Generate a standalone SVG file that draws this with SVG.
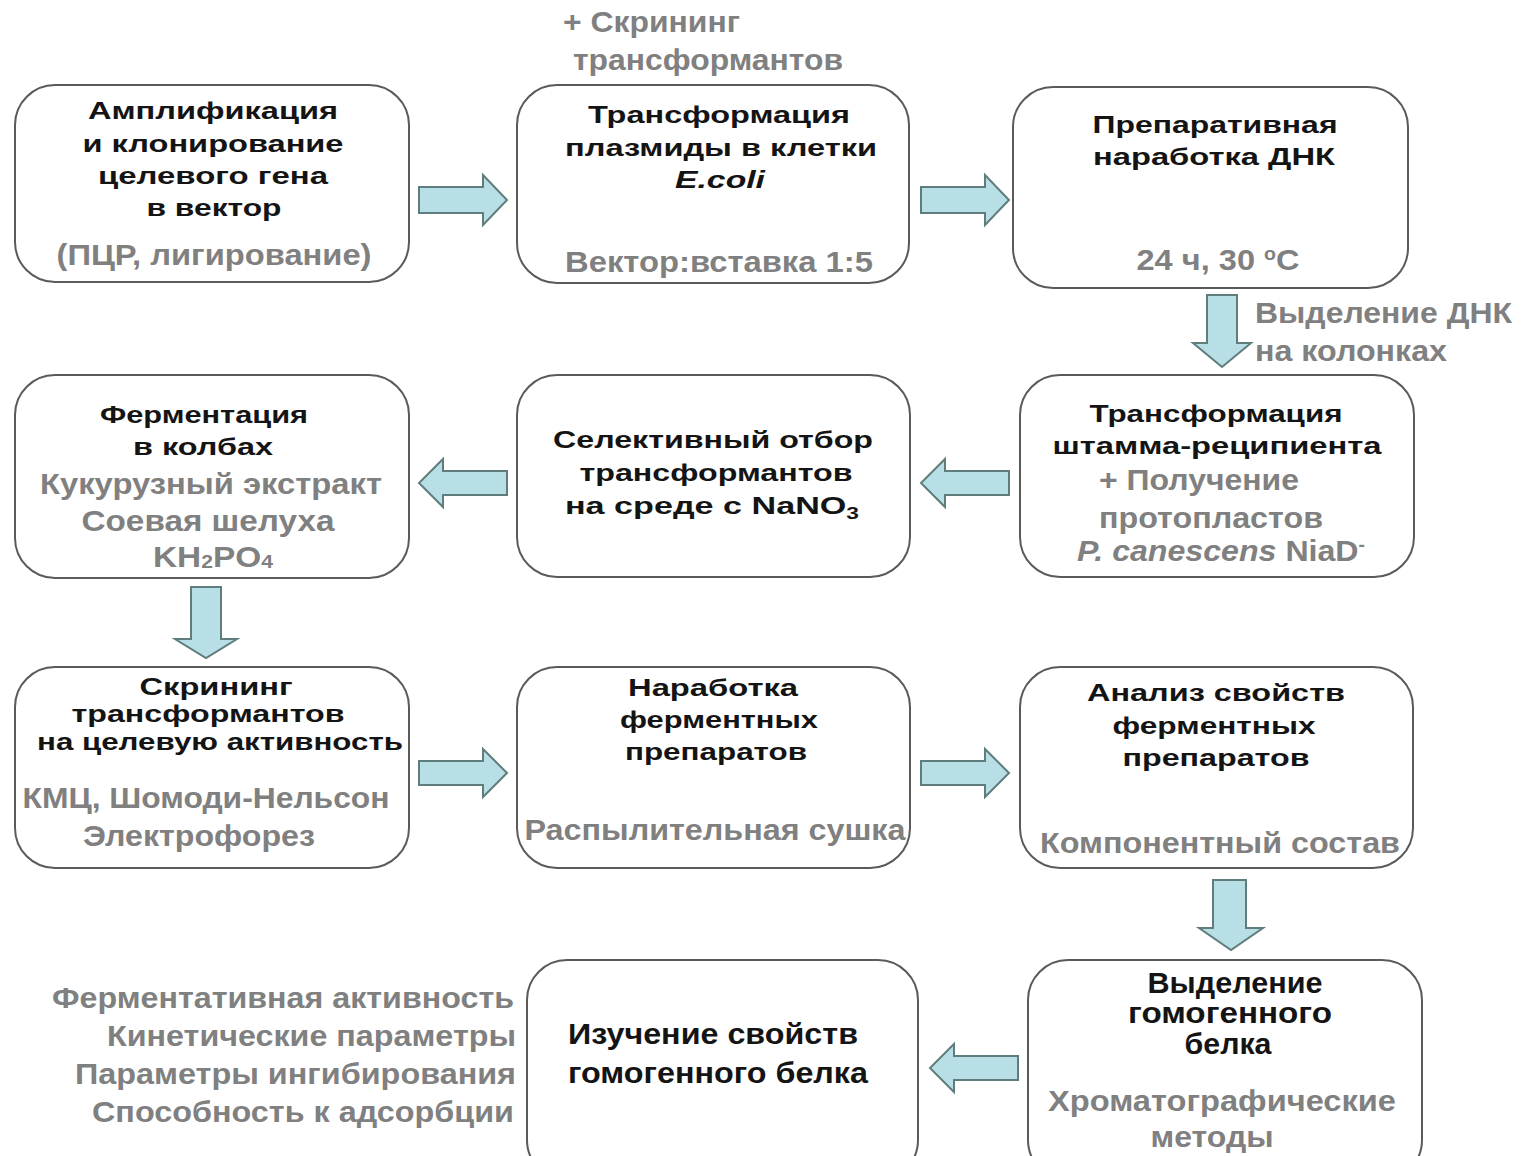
<svg xmlns="http://www.w3.org/2000/svg" width="1526" height="1156" viewBox="0 0 1526 1156">
<style>
.box{fill:#fff;stroke:#5a5a5a;stroke-width:2}
.arr{fill:#b8dfe5;stroke:#5f7d7d;stroke-width:2;stroke-linejoin:miter}
.h{font-family:"Liberation Sans",Arial,sans-serif;font-weight:bold;font-size:24px;fill:#141414;text-anchor:middle}
.b{font-family:"Liberation Sans",Arial,sans-serif;font-weight:bold;font-size:30px;fill:#141414}
.g{font-family:"Liberation Sans",Arial,sans-serif;font-weight:bold;font-size:30px;fill:#808080}
.m{text-anchor:middle}
.e{text-anchor:end}
</style>
<rect width="1526" height="1156" fill="#fff"/>
<g id="connectors">
<path class="arr" d="M419,187 H483 V175 L507,200 L483,225 V213 H419 Z"/>
<path class="arr" d="M921,187 H985 V175 L1009,200 L985,225 V213 H921 Z"/>
<path class="arr" d="M1207,295 H1237 V343 H1251 L1222,367 L1193,343 H1207 Z"/>
<path class="arr" d="M1009,471 H945 V459 L921,483 L945,507 V495 H1009 Z"/>
<path class="arr" d="M507,471 H443 V459 L419,483 L443,507 V495 H507 Z"/>
<path class="arr" d="M191,587 H221 V639 H237 L206,658 L175,639 H191 Z"/>
<path class="arr" d="M419,761 H483 V749 L507,773 L483,797 V785 H419 Z"/>
<path class="arr" d="M921,761 H985 V749 L1009,773 L985,797 V785 H921 Z"/>
<path class="arr" d="M1213,880 H1246 V928 H1263 L1231,950 L1199,928 H1213 Z"/>
<path class="arr" d="M1018,1056 H954 V1044 L930,1068 L954,1092 V1080 H1018 Z"/>
</g>
<g id="top-note">
<text class="g" x="563" y="32" textLength="177" lengthAdjust="spacingAndGlyphs">+ Скрининг</text>
<text class="g" x="573" y="70" textLength="270" lengthAdjust="spacingAndGlyphs">трансформантов</text>
</g>
<g id="n1">
<rect class="box" x="15" y="85" width="394" height="197" rx="40"/>
<text class="h" x="213" y="119" textLength="250" lengthAdjust="spacingAndGlyphs">Амплификация</text>
<text class="h" x="213" y="152" textLength="261" lengthAdjust="spacingAndGlyphs">и клонирование</text>
<text class="h" x="213" y="184" textLength="230" lengthAdjust="spacingAndGlyphs">целевого гена</text>
<text class="h" x="214" y="216" textLength="135" lengthAdjust="spacingAndGlyphs">в вектор</text>
<text class="g m" x="214" y="265" textLength="315" lengthAdjust="spacingAndGlyphs">(ПЦР, лигирование)</text>
</g>
<g id="n2">
<rect class="box" x="517" y="85" width="392" height="198" rx="40"/>
<text class="h" x="719" y="123" textLength="262" lengthAdjust="spacingAndGlyphs">Трансформация</text>
<text class="h" x="721" y="156" textLength="312" lengthAdjust="spacingAndGlyphs">плазмиды в клетки</text>
<text class="h" x="720" y="188" font-style="italic" textLength="90" lengthAdjust="spacingAndGlyphs">E.coli</text>
<text class="g m" x="719" y="272" textLength="308" lengthAdjust="spacingAndGlyphs">Вектор:вставка 1:5</text>
</g>
<g id="n3">
<rect class="box" x="1013" y="87" width="395" height="201" rx="40"/>
<text class="h" x="1215" y="133" textLength="245" lengthAdjust="spacingAndGlyphs">Препаративная</text>
<text class="h" x="1214" y="165" textLength="242" lengthAdjust="spacingAndGlyphs">наработка ДНК</text>
<text class="g m" x="1218" y="270" textLength="163" lengthAdjust="spacingAndGlyphs">24 ч, 30 <tspan font-size="18" dy="-10">o</tspan><tspan dy="10">C</tspan></text>
</g>
<g id="dna-note">
<text class="g" x="1255" y="323" textLength="257" lengthAdjust="spacingAndGlyphs">Выделение ДНК</text>
<text class="g" x="1255" y="361" textLength="192" lengthAdjust="spacingAndGlyphs">на колонках</text>
</g>
<g id="n6">
<rect class="box" x="1020" y="375" width="394" height="202" rx="40"/>
<text class="h" x="1216" y="422" textLength="253" lengthAdjust="spacingAndGlyphs">Трансформация</text>
<text class="h" x="1217" y="454" textLength="329" lengthAdjust="spacingAndGlyphs">штамма-реципиента</text>
<text class="g" x="1099" y="490" textLength="200" lengthAdjust="spacingAndGlyphs">+ Получение</text>
<text class="g" x="1099" y="528" textLength="224" lengthAdjust="spacingAndGlyphs">протопластов</text>
<text class="g" x="1077" y="561" textLength="288" lengthAdjust="spacingAndGlyphs"><tspan font-style="italic">P. canescens</tspan> NiaD<tspan font-size="18" dy="-10">-</tspan></text>
</g>
<g id="n5">
<rect class="box" x="517" y="375" width="393" height="202" rx="40"/>
<text class="h" x="713" y="448" textLength="320" lengthAdjust="spacingAndGlyphs">Селективный отбор</text>
<text class="h" x="716" y="481" textLength="273" lengthAdjust="spacingAndGlyphs">трансформантов</text>
<text class="h" x="712" y="514" textLength="294" lengthAdjust="spacingAndGlyphs">на среде с NaNO<tspan font-size="16" dy="5">3</tspan></text>
</g>
<g id="n4">
<rect class="box" x="15" y="375" width="394" height="203" rx="40"/>
<text class="h" x="204" y="423" textLength="208" lengthAdjust="spacingAndGlyphs">Ферментация</text>
<text class="h" x="203" y="455" textLength="140" lengthAdjust="spacingAndGlyphs">в колбах</text>
<text class="g m" x="211" y="494" textLength="342" lengthAdjust="spacingAndGlyphs">Кукурузный экстракт</text>
<text class="g m" x="208" y="531" textLength="253" lengthAdjust="spacingAndGlyphs">Соевая шелуха</text>
<text class="g m" x="213" y="567" textLength="120" lengthAdjust="spacingAndGlyphs">KH<tspan font-size="19" dy="1">2</tspan><tspan dy="-1">PO</tspan><tspan font-size="19" dy="1">4</tspan></text>
</g>
<g id="n7">
<rect class="box" x="15" y="667" width="394" height="201" rx="40"/>
<text class="h" x="216" y="695" textLength="153" lengthAdjust="spacingAndGlyphs">Скрининг</text>
<text class="h" x="208" y="722" textLength="273" lengthAdjust="spacingAndGlyphs">трансформантов</text>
<text class="h" x="220" y="750" textLength="366" lengthAdjust="spacingAndGlyphs">на целевую активность</text>
<text class="g m" x="206" y="808" textLength="367" lengthAdjust="spacingAndGlyphs">КМЦ, Шомоди-Нельсон</text>
<text class="g m" x="199" y="846" textLength="232" lengthAdjust="spacingAndGlyphs">Электрофорез</text>
</g>
<g id="n8">
<rect class="box" x="517" y="667" width="393" height="201" rx="40"/>
<text class="h" x="713" y="696" textLength="170" lengthAdjust="spacingAndGlyphs">Наработка</text>
<text class="h" x="719" y="728" textLength="198" lengthAdjust="spacingAndGlyphs">ферментных</text>
<text class="h" x="716" y="760" textLength="182" lengthAdjust="spacingAndGlyphs">препаратов</text>
<text class="g m" x="715" y="840" textLength="381" lengthAdjust="spacingAndGlyphs">Распылительная сушка</text>
</g>
<g id="n9">
<rect class="box" x="1020" y="667" width="393" height="201" rx="40"/>
<text class="h" x="1216" y="701" textLength="258" lengthAdjust="spacingAndGlyphs">Анализ свойств</text>
<text class="h" x="1214" y="734" textLength="203" lengthAdjust="spacingAndGlyphs">ферментных</text>
<text class="h" x="1216" y="766" textLength="187" lengthAdjust="spacingAndGlyphs">препаратов</text>
<text class="g m" x="1220" y="853" textLength="360" lengthAdjust="spacingAndGlyphs">Компонентный состав</text>
</g>
<g id="n11">
<rect class="box" x="1028" y="960" width="394" height="220" rx="40"/>
<text class="b m" x="1235" y="993" textLength="175" lengthAdjust="spacingAndGlyphs">Выделение</text>
<text class="b m" x="1230" y="1023" textLength="204" lengthAdjust="spacingAndGlyphs">гомогенного</text>
<text class="b m" x="1228" y="1054" textLength="87" lengthAdjust="spacingAndGlyphs">белка</text>
<text class="g m" x="1222" y="1111" textLength="348" lengthAdjust="spacingAndGlyphs">Хроматографические</text>
<text class="g m" x="1212" y="1147" textLength="123" lengthAdjust="spacingAndGlyphs">методы</text>
</g>
<g id="n10">
<rect class="box" x="527" y="960" width="391" height="220" rx="40"/>
<text class="b" x="568" y="1044" textLength="290" lengthAdjust="spacingAndGlyphs">Изучение свойств</text>
<text class="b" x="568" y="1083" textLength="300" lengthAdjust="spacingAndGlyphs">гомогенного белка</text>
</g>
<g id="props-note">
<text class="g e" x="514" y="1008" textLength="462" lengthAdjust="spacingAndGlyphs">Ферментативная активность</text>
<text class="g e" x="516" y="1046" textLength="409" lengthAdjust="spacingAndGlyphs">Кинетические параметры</text>
<text class="g e" x="516" y="1084" textLength="441" lengthAdjust="spacingAndGlyphs">Параметры ингибирования</text>
<text class="g e" x="514" y="1122" textLength="422" lengthAdjust="spacingAndGlyphs">Способность к адсорбции</text>
</g>
</svg>
